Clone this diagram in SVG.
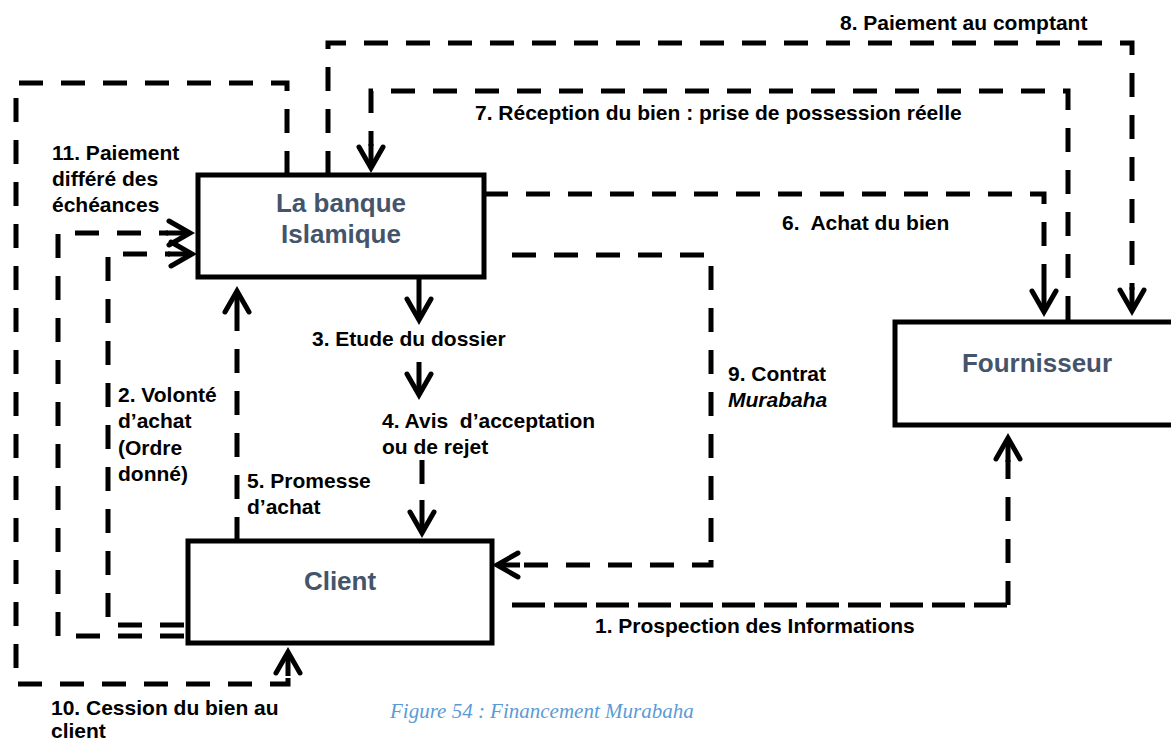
<svg xmlns="http://www.w3.org/2000/svg" width="1171" height="742" viewBox="0 0 1171 742">
  <style>
    .box{fill:#fff;stroke:#000;stroke-width:5}
    .node{font-family:"Liberation Sans",Arial,sans-serif;font-weight:bold;font-size:26px;fill:#44546A;text-anchor:middle}
    .lbl{font-family:"Liberation Sans",Arial,sans-serif;font-weight:bold;font-size:21px;fill:#000}
    .dash{fill:none;stroke:#000;stroke-width:5;stroke-dasharray:24 18}
    .ldash{fill:none;stroke:#000;stroke-width:5;stroke-dasharray:33 9}
    .tip{fill:none;stroke:#000;stroke-width:5;marker-end:url(#arrow)}
    .cap{font-family:"Liberation Serif","Times New Roman",serif;font-style:italic;font-size:21px;fill:#5B9BD5}
  </style>
  <defs>
    <marker id="arrow" markerUnits="userSpaceOnUse" viewBox="-28 -18 38 36" markerWidth="38" markerHeight="36" refX="0" refY="0" orient="auto" overflow="visible">
      <path d="M-21,-12 L0,0 L-21,12" fill="none" stroke="#000" stroke-width="5" stroke-linecap="round"/>
    </marker>
  </defs>

  <!-- connectors -->
  <g id="connectors">
    <!-- 1. Prospection des Informations: client -> fournisseur -->
    <path class="ldash" d="M512,605 H1008"/>
    <path class="dash" d="M1008,605 V460"/>
    <path class="tip" d="M1008,462 V438"/>
    <!-- 2. Volonté d'achat: client -> banque -->
    <path class="dash" d="M184,625 H108 V254 H170"/>
    <path class="tip" d="M168,254 H192"/>
    <!-- 3. Etude du dossier -->
    <path class="tip" d="M419,277 V320"/>
    <path class="tip" d="M419,362 V395"/>
    <!-- 4. Avis d'acceptation ou de rejet -->
    <path class="dash" d="M422,460 V500"/>
    <path class="tip" d="M422,500 V533"/>
    <!-- 5. Promesse d'achat: client -> banque -->
    <path class="dash" d="M237,541 V316"/>
    <path class="tip" d="M237,316 V291"/>
    <!-- 6. Achat du bien: banque -> fournisseur -->
    <path class="dash" d="M484,194 H1044 V290"/>
    <path class="tip" d="M1044,288 V312"/>
    <!-- 7. Réception du bien: fournisseur -> banque -->
    <path class="dash" d="M1068,320 V91 H371 V146"/>
    <path class="tip" d="M371,144 V168"/>
    <!-- 8. Paiement au comptant: banque -> fournisseur -->
    <path class="dash" d="M328,175 V43 H1132 V290"/>
    <path class="tip" d="M1132,287 V311"/>
    <!-- 9. Contrat Murabaha: banque -> client -->
    <path class="dash" d="M512,255 H711 V565 H520"/>
    <path class="tip" d="M520,565 H497"/>
    <!-- 10. Cession du bien au client: banque -> client -->
    <path class="dash" d="M287,175 V83 H16 V684 H288 V676"/>
    <path class="tip" d="M288,676 V652"/>
    <!-- 11. Paiement différé des échéances: client -> banque -->
    <path class="dash" d="M184,636 H58 V233 H168"/>
    <path class="tip" d="M166,233 H190"/>
  </g>

  <!-- nodes -->
  <g id="banque">
    <rect class="box" x="198" y="175" width="286" height="102"/>
    <text class="node" x="341" y="212">La banque</text>
    <text class="node" x="341" y="243">Islamique</text>
  </g>
  <g id="client">
    <rect class="box" x="188" y="541" width="304" height="102"/>
    <text class="node" x="340" y="590">Client</text>
  </g>
  <g id="fournisseur">
    <rect class="box" x="895" y="322" width="290" height="103"/>
    <text class="node" x="1037" y="372">Fournisseur</text>
  </g>

  <!-- connector labels -->
  <g id="labels">
    <text class="lbl" x="840" y="30">8. Paiement au comptant</text>
    <text class="lbl" x="475" y="120">7. Réception du bien : prise de possession réelle</text>
    <text class="lbl" x="52" y="160">11. Paiement</text>
    <text class="lbl" x="52" y="186">différé des</text>
    <text class="lbl" x="52" y="212">échéances</text>
    <text class="lbl" x="782" y="230" xml:space="preserve">6.  Achat du bien</text>
    <text class="lbl" x="312" y="346">3. Etude du dossier</text>
    <text class="lbl" x="728" y="381">9. Contrat</text>
    <text class="lbl" x="728" y="407" font-style="italic">Murabaha</text>
    <text class="lbl" x="382" y="428" xml:space="preserve">4. Avis  d’acceptation</text>
    <text class="lbl" x="382" y="454">ou de rejet</text>
    <text class="lbl" x="118" y="402">2. Volonté</text>
    <text class="lbl" x="118" y="428">d’achat</text>
    <text class="lbl" x="118" y="455">(Ordre</text>
    <text class="lbl" x="118" y="481">donné)</text>
    <text class="lbl" x="247" y="488">5. Promesse</text>
    <text class="lbl" x="247" y="514">d’achat</text>
    <text class="lbl" x="595" y="633">1. Prospection des Informations</text>
    <text class="lbl" x="51" y="715">10. Cession du bien au</text>
    <text class="lbl" x="51" y="738">client</text>
  </g>

  <text class="cap" x="390" y="718">Figure 54 : Financement Murabaha</text>
</svg>
